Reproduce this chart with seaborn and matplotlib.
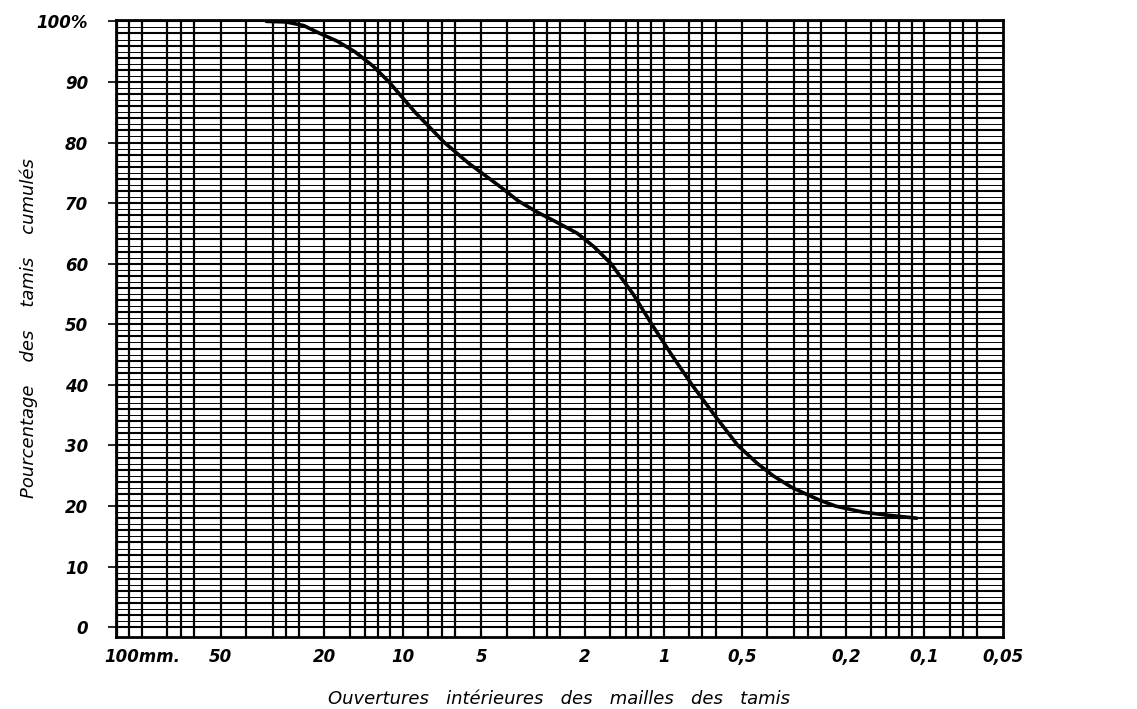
import numpy as np
import pandas as pd
import matplotlib
matplotlib.use("Agg")
import matplotlib.pyplot as plt
import seaborn as sns

# Sieve curve (opening in mm, cumulative % passing)
opening_mm = [33.4, 28.0, 24.0, 20.8, 17.8, 15.3, 13.0, 11.3, 8.98, 6.93, 5.6, 4.99,
              4.2, 3.62, 3.05, 2.61, 2.14, 1.85, 1.59, 1.31, 1.11, 0.933, 0.778,
              0.638, 0.519, 0.436, 0.380, 0.320, 0.253, 0.219, 0.172, 0.138, 0.107]
percent = [100.0, 99.9, 99.3, 98.0, 96.7, 95.0, 92.6, 90.0, 85.0, 80.0, 76.6, 75.0,
           72.6, 70.4, 68.5, 67.0, 65.0, 62.8, 60.0, 55.0, 50.0, 45.0, 40.0,
           35.0, 30.0, 27.0, 25.0, 23.0, 21.0, 20.0, 19.0, 18.5, 18.0]

x_ticks = [100, 50, 20, 10, 5, 2, 1, 0.5, 0.2, 0.1, 0.05]
x_labels = ["100mm.", "50", "20", "10", "5", "2", "1", "0,5", "0,2", "0,1", "0,05"]
y_ticks = [0, 10, 20, 30, 40, 50, 60, 70, 80, 90, 100]
y_labels = ["0", "10", "20", "30", "40", "50", "60", "70", "80", "90", "100%"]

df = pd.DataFrame({"opening": opening_mm, "percent": percent})

sns.set_style("white")
plt.rcParams['font.family'] = ['DejaVu Sans']
plt.rcParams['text.color'] = 'black'
plt.rcParams['xtick.color'] = 'black'
plt.rcParams['ytick.color'] = 'black'
plt.rcParams['axes.labelcolor'] = 'black'

fig = plt.figure(figsize=(11.37, 7.09), dpi=100)
ax = fig.add_axes([0.102, 0.1016, 0.780, 0.870])
ax.set_xscale("log")
ax.set_xlim(126, 0.0593)
ax.set_ylim(-1.6, 100.2)

# graph-paper grid: dense horizontal lines, sieve-series vertical lines
for v in np.arange(0, 101, 1):
    ax.axhline(v, color="black", lw=1.5 if v % 2 == 0 else 0.7, zorder=1)
series = [1, 1.12, 1.25, 1.4, 1.6, 2, 2.5, 2.8, 3.15, 4, 5, 6.3, 7.1, 8]
for dec in [0.01, 0.1, 1, 10, 100]:
    for s in series:
        val = s * dec
        if 0.0593 < val < 126:
            ax.axvline(val, color="black", lw=1.6, zorder=1)

sns.lineplot(data=df, x="opening", y="percent", ax=ax, color="black",
             lw=2.6, zorder=3, legend=False)

for sp in ax.spines.values():
    sp.set_linewidth(2)
    sp.set_color("black")

ax.set_xticks(x_ticks)
ax.set_xticklabels(x_labels, fontsize=12, fontweight="bold", fontstyle="italic")
ax.xaxis.set_minor_locator(matplotlib.ticker.NullLocator())
ax.set_yticks(y_ticks)
ax.set_yticklabels(y_labels, fontsize=12, fontweight="bold", fontstyle="italic")
ax.tick_params(axis="x", length=0, pad=8)
ax.tick_params(axis="y", length=6, width=1.2, color="black", direction="out", pad=14, left=True)

ax.set_xlabel("Ouvertures   intérieures   des   mailles   des   tamis",
              fontsize=13, fontstyle="italic")
ax.set_ylabel("Pourcentage    des    tamis    cumulés",
              fontsize=13, fontstyle="italic")
ax.xaxis.set_label_coords(0.5, -0.086)
ax.yaxis.set_label_coords(-0.088, 0.5)

fig.savefig("out.png", dpi=100)
